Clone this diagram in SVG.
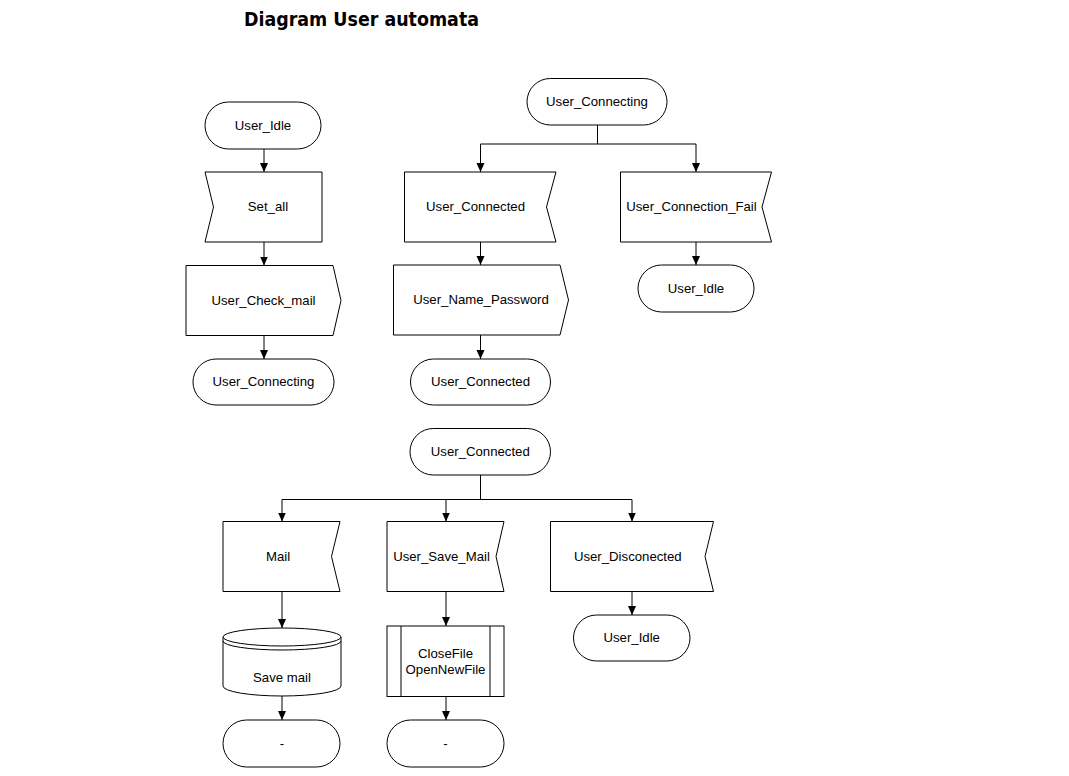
<svg xmlns="http://www.w3.org/2000/svg" width="1069" height="776" viewBox="0 0 1069 776">
<style>
.s{fill:#fff;stroke:#000;stroke-width:1}
.c{fill:none;stroke:#000;stroke-width:1}
.t{font-family:"Liberation Sans",Arial,sans-serif;font-size:13.2px;fill:#000;text-anchor:middle}
.title{font-family:"DejaVu Sans Condensed","DejaVu Sans",Verdana,sans-serif;font-weight:bold;font-size:19.4px;fill:#000}
</style>
<defs>
<marker id="ah" markerUnits="userSpaceOnUse" markerWidth="10" markerHeight="10" refX="9" refY="4" orient="auto">
<path d="M0,0 L9,4 L0,8 Z" fill="#000"/>
</marker>
</defs>
<rect width="1069" height="776" fill="#fff"/>
<text class="title" x="244" y="26" textLength="235" lengthAdjust="spacingAndGlyphs">Diagram User automata</text>

<g id="connectors">
<path class="c" d="M264,149 V172" marker-end="url(#ah)"/>
<path class="c" d="M264,242 V265.5" marker-end="url(#ah)"/>
<path class="c" d="M264,335.5 V359" marker-end="url(#ah)"/>
<path class="c" d="M597.5,125 V144 M480.5,144 H696"/>
<path class="c" d="M480.5,144 V172" marker-end="url(#ah)"/>
<path class="c" d="M696,144 V172" marker-end="url(#ah)"/>
<path class="c" d="M480.5,242 V265" marker-end="url(#ah)"/>
<path class="c" d="M480.5,335 V359" marker-end="url(#ah)"/>
<path class="c" d="M696,242 V265" marker-end="url(#ah)"/>
<path class="c" d="M480.5,475 V499.5 M282,499.5 H632"/>
<path class="c" d="M282,499.5 V521.5" marker-end="url(#ah)"/>
<path class="c" d="M446,499.5 V521.5" marker-end="url(#ah)"/>
<path class="c" d="M632,499.5 V521.5" marker-end="url(#ah)"/>
<path class="c" d="M282,591.5 V628" marker-end="url(#ah)"/>
<path class="c" d="M282,696 V720" marker-end="url(#ah)"/>
<path class="c" d="M446,591.5 V626" marker-end="url(#ah)"/>
<path class="c" d="M446,696.5 V720" marker-end="url(#ah)"/>
<path class="c" d="M632,591.5 V615" marker-end="url(#ah)"/>
</g>

<g id="n_user_idle_1">
<rect class="s" x="205" y="102" width="116" height="47" rx="23.5"/>
<text class="t" x="263" y="129.5">User_Idle</text>
</g>
<g id="n_set_all">
<path class="s" d="M205,172 H322 V242 H205 L213.5,207 Z"/>
<text class="t" x="268" y="211">Set_all</text>
</g>
<g id="n_user_check_mail">
<path class="s" d="M186,265.5 H333 L341,300.5 L333,335.5 H186 Z"/>
<text class="t" x="263.5" y="304.5">User_Check_mail</text>
</g>
<g id="n_user_connecting_1">
<rect class="s" x="193" y="359" width="141" height="46" rx="23"/>
<text class="t" x="263.5" y="386">User_Connecting</text>
</g>

<g id="n_user_connecting_2">
<rect class="s" x="527" y="78.5" width="140" height="46.5" rx="23.25"/>
<text class="t" x="597" y="105.7">User_Connecting</text>
</g>
<g id="n_user_connected_sig">
<path class="s" d="M404.5,172 H556 L546.5,207 L556,242 H404.5 Z"/>
<text class="t" x="475.5" y="211">User_Connected</text>
</g>
<g id="n_user_connection_fail">
<path class="s" d="M620.5,172 H771.5 L762,207 L771.5,242 H620.5 Z"/>
<text class="t" x="691.5" y="211">User_Connection_Fail</text>
</g>
<g id="n_user_name_password">
<path class="s" d="M393.5,265 H560 L568.5,300 L560,335 H393.5 Z"/>
<text class="t" x="481" y="304">User_Name_Password</text>
</g>
<g id="n_user_connected_1">
<rect class="s" x="410.5" y="359" width="140" height="46" rx="23"/>
<text class="t" x="480.5" y="386">User_Connected</text>
</g>
<g id="n_user_idle_2">
<rect class="s" x="638" y="265" width="116" height="47" rx="23.5"/>
<text class="t" x="696" y="292.5">User_Idle</text>
</g>

<g id="n_user_connected_2">
<rect class="s" x="410" y="428.5" width="140.5" height="46.5" rx="23.25"/>
<text class="t" x="480.3" y="455.7">User_Connected</text>
</g>
<g id="n_mail">
<path class="s" d="M223,521.5 H340 L331.5,556.5 L340,591.5 H223 Z"/>
<text class="t" x="278" y="560.5">Mail</text>
</g>
<g id="n_user_save_mail">
<path class="s" d="M387,521.5 H504 L496,556.5 L504,591.5 H387 Z"/>
<text class="t" x="441.5" y="560.5">User_Save_Mail</text>
</g>
<g id="n_user_disconected">
<path class="s" d="M550.5,521.5 H713.5 L705,556.5 L713.5,591.5 H550.5 Z"/>
<text class="t" x="627.8" y="560.5">User_Disconected</text>
</g>
<g id="n_save_mail">
<path class="s" d="M223,637 V686 A59,10 0 0 0 341,686 V637"/>
<ellipse class="s" cx="282" cy="637" rx="59" ry="9"/>
<path class="c" d="M223,641 A59,9 0 0 0 341,641"/>
<text class="t" x="282" y="682">Save mail</text>
</g>
<g id="n_closefile">
<rect class="s" x="387" y="626" width="117" height="70.5"/>
<path class="c" d="M401,626 V696.5 M490,626 V696.5"/>
<text class="t" x="445.5" y="657.5">CloseFile</text>
<text class="t" x="445.5" y="674">OpenNewFile</text>
</g>
<g id="n_user_idle_3">
<rect class="s" x="573.5" y="615" width="116.5" height="46" rx="23"/>
<text class="t" x="631.7" y="642">User_Idle</text>
</g>
<g id="n_end_1">
<rect class="s" x="223" y="720" width="117" height="47" rx="23.5"/>
<text class="t" x="282" y="747.5">-</text>
</g>
<g id="n_end_2">
<rect class="s" x="387" y="720" width="117" height="47" rx="23.5"/>
<text class="t" x="445.5" y="747.5">-</text>
</g>
</svg>
